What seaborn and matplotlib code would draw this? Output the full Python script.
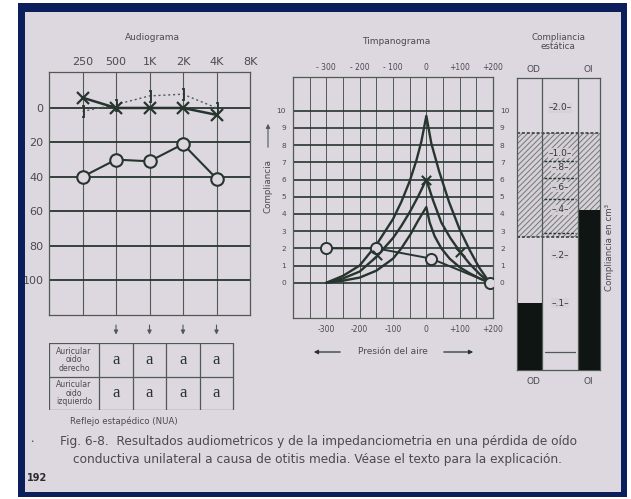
import numpy as np
import matplotlib
matplotlib.use("Agg")
import matplotlib.pyplot as plt
import seaborn as sns
import pandas as pd
from matplotlib.patches import Rectangle

sns.set_style("white")
plt.rcParams["font.family"] = ["DejaVu Sans"]

# ---------------- data ----------------
freq_labels = ["250", "500", "1K", "2K", "4K", "8K"]
air_od_db = [40, 30, 31, 21, 41]          # circles (right ear)
air_oi_db = [-6, 0, 0, 0, 4]              # crosses (left ear)
bone_db = [2, -2, -7, -8, 0]              # bone conduction brackets
audio_ticks = [0, 20, 40, 60, 80, 100]

row_labels = ["Auricular\noido\nderecho", "Auricular\noido\nizquierdo"]
reflex_freqs = ["500", "1K", "2K", "4K"]
reflex_od = ["a", "a", "a", "a"]
reflex_oi = ["a", "a", "a", "a"]

pressure_ticks = [-300, -200, -100, 0, 100, 200]
pressure_top_labels = ["- 300", "- 200", "- 100", "0", "+100", "+200"]
pressure_bot_labels = ["-300", "-200", "-100", "0", "+100", "+200"]
compl_ticks = list(range(0, 11))

outer_p = [-300, -250, -200, -150, -100, -75, -50, -30, -15, 0,
           15, 38, 68, 100, 130, 158, 190]
outer_c = [0, 0.4, 1.0, 2.2, 3.7, 4.7, 5.9, 7.1, 8.2, 9.7,
           8.1, 6.5, 4.7, 3.1, 1.9, 0.9, 0]
middle_p = [-300, -250, -200, -150, -100, -75, -50, -25, 0,
            20, 45, 72, 101, 130, 160, 190]
middle_c = [0, 0.25, 0.65, 1.5, 2.6, 3.3, 4.1, 5.0, 6.0,
            4.8, 3.5, 2.6, 1.8, 1.1, 0.5, 0]
inner_p = [-300, -250, -200, -150, -100, -75, -48, -25, 0,
           10, 25, 45, 70, 100, 130, 160, 190]
inner_c = [0, 0.12, 0.3, 0.7, 1.4, 2.0, 2.8, 3.6, 4.4,
           3.5, 2.7, 2.0, 1.4, 0.9, 0.55, 0.25, 0]

od_tymp_p = [-300, -150, 15, 190]
od_tymp_c = [2.0, 2.0, 1.4, 0.0]
oi_tymp_p = [-147, 0, 101]
oi_tymp_c = [1.6, 6.0, 1.8]

static_ears = ["OD", "OI"]
static_values = [0.1, 0.4]
normal_range = [0.28, 1.45]
static_tick_vals = [2.0, 1.0, 0.8, 0.6, 0.4, 0.2, 0.1]
static_tick_labels = ["2.0", "1.0", ".8", ".6", ".4", ".2", ".1"]
static_minor = [0.9, 0.7, 0.5, 0.3]

# ---------------- style ----------------
PAPER = "#ddd7df"
NAVY = "#0b1f5c"
INK = "#27352f"
GRID = "#4f5a55"
TXT = "#4a4a52"
W, H = 631, 499

fig = plt.figure(figsize=(W / 100, H / 100), dpi=100)
fig.patch.set_facecolor("white")


def rect(x0, y0, x1, y1):
    return [x0 / W, 1 - y1 / H, (x1 - x0) / W, (y1 - y0) / H]


def fpos(x, y):
    return (x / W, 1 - y / H)


fig.add_artist(Rectangle(fpos(25, 492), 596 / W, 480 / H, transform=fig.transFigure,
                         facecolor=PAPER, edgecolor="none", zorder=-5))

# ---------------- audiogram ----------------
ax = fig.add_axes(rect(49, 72, 250, 315))
ax.set_facecolor("none")
ax.set_xlim(-1, 5)
ax.set_ylim(120.3, -20.9)
for x in range(0, 5):
    ax.axvline(x, color=GRID, lw=0.8, zorder=1)
for y in audio_ticks:
    ax.axhline(y, color=INK, lw=1.3, zorder=1)
for s in ax.spines.values():
    s.set_color(GRID)
    s.set_linewidth(0.9)
ax.xaxis.tick_top()
ax.set_xticks(range(len(freq_labels)))
ax.set_xticklabels(freq_labels)
ax.set_yticks(audio_ticks)
ax.set_yticklabels([str(v) for v in audio_ticks])
ax.tick_params(length=0, labelsize=8, colors=TXT, pad=4)
ax.tick_params(axis="x", pad=3.5)

xs = list(range(len(air_od_db)))
df_od = pd.DataFrame({"f": xs, "db": air_od_db})
df_oi = pd.DataFrame({"f": xs, "db": air_oi_db})
df_bc = pd.DataFrame({"f": xs, "db": bone_db})
sns.lineplot(data=df_bc, x="f", y="db", ax=ax, color=GRID, lw=1.0, ls=(0, (1.5, 2)),
             marker="$]$", markersize=8, markeredgewidth=0.6, markeredgecolor=INK,
             markerfacecolor=INK, zorder=3)
sns.lineplot(data=df_oi, x="f", y="db", ax=ax, color=INK, lw=1.8,
             marker="x", markersize=8, markeredgewidth=1.6, markeredgecolor=INK, zorder=4)
sns.lineplot(data=df_od, x="f", y="db", ax=ax, color=INK, lw=1.5,
             marker="o", markersize=9, markeredgewidth=1.5, markeredgecolor=INK,
             markerfacecolor=PAPER, zorder=4)
ax.set_xlabel("")
ax.set_ylabel("")

# down arrows to the reflex table
for i in range(1, 5):
    ax.annotate("", xy=(i, -0.092), xytext=(i, -0.03), xycoords=ax.get_xaxis_transform(),
                textcoords=ax.get_xaxis_transform(),
                arrowprops=dict(arrowstyle="-|>", color=GRID, lw=0.8, mutation_scale=6),
                annotation_clip=False)

# ---------------- reflex table ----------------
axt = fig.add_axes(rect(49, 343, 250, 410))
axt.set_xlim(-1, 5)
axt.set_ylim(2, 0)
axt.axis("off")
axt.plot([-1, 4.5, 4.5, -1, -1], [0, 0, 2, 2, 0], color=GRID, lw=0.9)
axt.plot([-1, 4.5], [1, 1], color=GRID, lw=0.9)
for xv in [0.5, 1.5, 2.5, 3.5]:
    axt.plot([xv, xv], [0, 2], color=GRID, lw=0.9)
for r, (lab, marks) in enumerate(zip(row_labels, [reflex_od, reflex_oi])):
    axt.text(-0.25, r + 0.5, lab, ha="center", va="center", fontsize=5.6, color=TXT,
             linespacing=0.95)
    for j, m in enumerate(marks):
        axt.text(j + 1, r + 0.5, m, ha="center", va="center", fontsize=12,
                 family="Liberation Serif", color=INK)

# ---------------- tympanogram ----------------
ay = fig.add_axes(rect(293, 77, 493, 318))
ay.set_facecolor("none")
ay.set_xlim(-400, 200)
ay.set_ylim(-2.05, 11.96)
for x in range(-350, 200, 50):
    ay.axvline(x, color=GRID, lw=0.7, zorder=1)
for y in compl_ticks:
    ay.axhline(y, color=INK, lw=1.2, zorder=1)
for s in ay.spines.values():
    s.set_color(GRID)
    s.set_linewidth(0.9)
ay.set_xticks(pressure_ticks)
ay.set_xticklabels(pressure_bot_labels)
ay.tick_params(axis="x", length=0, labelsize=5.5, colors=TXT, pad=5,
               labeltop=False, labelbottom=True)
sec = ay.secondary_xaxis("top")
sec.set_xticks(pressure_ticks)
sec.set_xticklabels(pressure_top_labels)
sec.tick_params(length=0, labelsize=5.5, colors=TXT, pad=3.5)
sec.spines["top"].set_visible(False)
ay.set_yticks(compl_ticks)
ay.set_yticklabels([str(v) for v in compl_ticks])
ay.tick_params(axis="y", length=0, labelsize=5.3, colors=TXT, pad=5,
               labelleft=True, labelright=True)

for pp, cc in [(outer_p, outer_c), (middle_p, middle_c), (inner_p, inner_c)]:
    sns.lineplot(x=pp, y=cc, ax=ay, sort=False, color=INK, lw=1.7, zorder=3)
sns.lineplot(x=od_tymp_p, y=od_tymp_c, ax=ay, sort=False, color=INK, lw=1.4,
             marker="o", markersize=8, markeredgewidth=1.4, markeredgecolor=INK,
             markerfacecolor=PAPER, zorder=4)
sns.scatterplot(x=oi_tymp_p, y=oi_tymp_c, ax=ay, marker="x", s=45, color=INK,
                linewidth=1.5, zorder=5)
ay.set_xlabel("")
ay.set_ylabel("")

# ---------------- static compliance ----------------
pos_px = [0, 18, 67, 115, 160, 183, 202, 217, 262, 292]
val_pts = [-0.04, 0, 0.1, 0.2, 0.4, 0.6, 0.8, 1.0, 2.0, 3.0]
fwd = lambda v: np.interp(v, val_pts, pos_px)
inv = lambda p: np.interp(p, pos_px, val_pts)
ac = fig.add_axes(rect(517, 78, 600, 370))
ac.set_facecolor("none")
ac.set_yscale("function", functions=(fwd, inv))
ac.set_xlim(0, 83)
ac.set_ylim(-0.04, 3.0)
ac.set_xticks([])
ac.set_yticks([])
ac.yaxis.set_minor_locator(matplotlib.ticker.NullLocator())
for s in ac.spines.values():
    s.set_color(GRID)
    s.set_linewidth(0.9)
plt.rcParams["hatch.linewidth"] = 0.7
ac.add_patch(Rectangle((0, normal_range[0]), 83, normal_range[1] - normal_range[0],
                       facecolor="#d6d0d8", edgecolor="#737974", hatch="//////", lw=0, zorder=1))
for yv in normal_range:
    ac.plot([0, 83], [yv, yv], color=INK, lw=1.1, ls=(0, (2, 1.2)), zorder=2)
for yv in static_minor:
    ac.plot([27, 59], [yv, yv], color=INK, lw=1.0, ls=(0, (2, 1.2)), zorder=2)
bar_x = [1, 61]
bar_w = [24, 22]
ac.bar(bar_x, [v + 0.04 for v in static_values], width=bar_w, bottom=-0.04, align="edge",
       color="#0e1512", edgecolor="none", zorder=3)
ac.axvline(25, color=GRID, lw=0.9, zorder=4)
ac.axvline(61, color=GRID, lw=0.9, zorder=4)
ac.plot([28, 58], [0, 0], color=GRID, lw=0.9, zorder=4)
for v, lab in zip(static_tick_vals, static_tick_labels):
    ac.text(43, v, "–" + lab + "–", ha="center", va="center", fontsize=6.5, color="#34343a",
            zorder=5, bbox=dict(facecolor="#d6d0d8", edgecolor="none", pad=0.3, alpha=0.85))

# ---------------- texts ----------------
def ftext(x, y, s, **kw):
    kw.setdefault("color", TXT)
    kw.setdefault("ha", "center")
    kw.setdefault("va", "center")
    fig.text(*fpos(x, y), s, **kw)


ftext(152, 38, "Audiograma", fontsize=6.5)
ftext(396, 41, "Timpanograma", fontsize=6.5)
ftext(558, 42, "Compliancia\nestática", fontsize=6.3, linespacing=1.0)
ftext(533, 69, static_ears[0], fontsize=6.5)
ftext(588, 69, static_ears[1], fontsize=6.5)
ftext(533, 381, static_ears[0], fontsize=6.5)
ftext(588, 381, static_ears[1], fontsize=6.5)
ftext(610, 247, "Compliancia en cm³", fontsize=6.3, rotation=90)
ftext(268, 186, "Compliancia", fontsize=6.3, rotation=90)
fig.add_artist(matplotlib.patches.FancyArrowPatch(fpos(268, 150), fpos(268, 121),
               transform=fig.transFigure, arrowstyle="-|>", mutation_scale=6,
               color=GRID, lw=0.8))
ftext(393, 352, "Presión del aire", fontsize=6.5)
fig.add_artist(matplotlib.patches.FancyArrowPatch(fpos(343, 352), fpos(311, 352),
               transform=fig.transFigure, arrowstyle="-|>", mutation_scale=6,
               color=INK, lw=0.9))
fig.add_artist(matplotlib.patches.FancyArrowPatch(fpos(441, 352), fpos(476, 352),
               transform=fig.transFigure, arrowstyle="-|>", mutation_scale=6,
               color=INK, lw=0.9))
ftext(70, 421, "Reflejo estapédico (NUA)", fontsize=6.2, ha="left")
ftext(32, 441, "•", fontsize=4)
ftext(60, 441, "Fig. 6-8.  Resultados audiometricos y de la impedanciometria en una pérdida de oído",
      fontsize=8.7, ha="left")
ftext(73, 459, "conductiva unilateral a causa de otitis media. Véase el texto para la explicación.",
      fontsize=8.7, ha="left")
ftext(27, 478, "192", fontsize=7, ha="left", weight="bold", color="#2a2a30")

# navy frame drawn on top
for (x0, y0, x1, y1) in [(18, 3, 627, 12), (18, 492, 627, 497), (18, 3, 25, 497), (621, 3, 627, 497)]:
    fig.add_artist(Rectangle(fpos(x0, y1), (x1 - x0) / W, (y1 - y0) / H,
                             transform=fig.transFigure, facecolor=NAVY, edgecolor="none", zorder=20))

fig.savefig("out.png", dpi=100, facecolor="white")
